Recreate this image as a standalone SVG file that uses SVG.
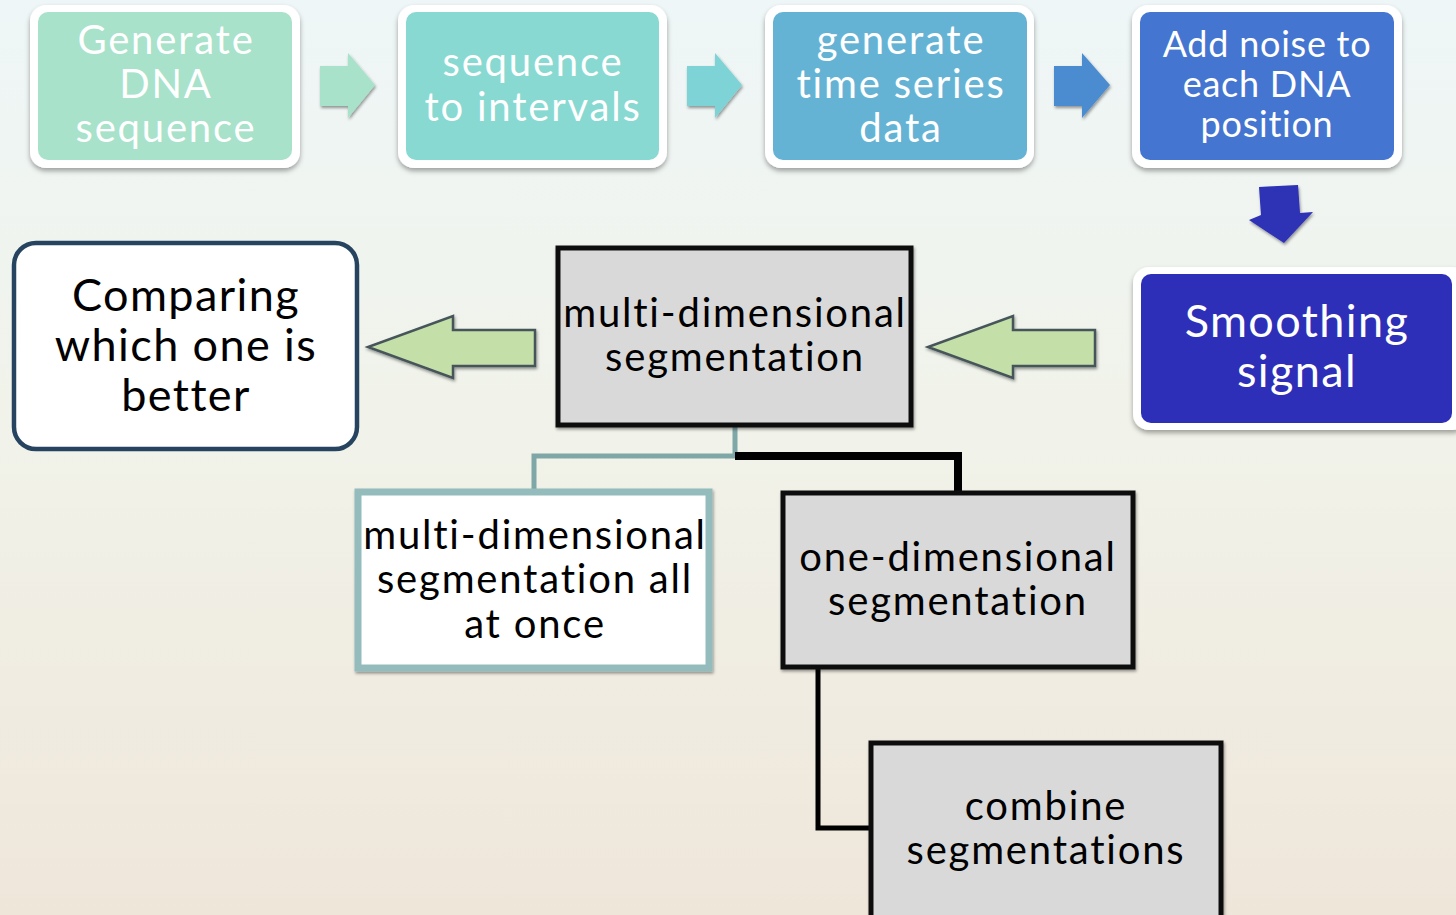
<svg xmlns="http://www.w3.org/2000/svg" width="1456" height="915" viewBox="0 0 1456 915">
<defs>
<linearGradient id="bg" x1="0" y1="0" x2="0" y2="1">
<stop offset="0" stop-color="#eef6f7"/>
<stop offset="0.45" stop-color="#f1f3ea"/>
<stop offset="1" stop-color="#efe6da"/>
</linearGradient>
<filter id="sh" x="-10%" y="-10%" width="120%" height="130%">
<feDropShadow dx="0" dy="3" stdDeviation="2.5" flood-color="#000" flood-opacity="0.35"/>
</filter>
<filter id="sh2" x="-10%" y="-10%" width="120%" height="130%">
<feDropShadow dx="1" dy="2" stdDeviation="1.5" flood-color="#000" flood-opacity="0.4"/>
</filter>
</defs>
<style>
text{font-family:"Lato","Open Sans","DejaVu Sans",sans-serif;text-anchor:middle}
.w{fill:#fff}
.k{fill:#000}
.m{font-size:40px;letter-spacing:1.8px}
.s{font-size:36px;letter-spacing:0.75px}
.l{font-size:45px;letter-spacing:1.4px}
.outer{fill:#fff;filter:url(#sh)}
.garrow{fill:#c5dfa8;stroke:#45555a;stroke-width:2.5;filter:url(#sh2)}
.grey{fill:#d9d9d9;stroke:#111;stroke-width:5;filter:url(#sh2)}
</style>
<rect width="1456" height="915" fill="url(#bg)"/>

<g id="connectors">
<polyline points="735,426 735,456 534,456 534,490" fill="none" stroke="#7fa7a7" stroke-width="5"/>
<polyline points="735,456 958,456 958,492" fill="none" stroke="#000" stroke-width="8"/>
<polyline points="818,668 818,828 870,828" fill="none" stroke="#000" stroke-width="5"/>
<polygon points="320,66 348,66 348,53 375,85 348,118 348,106 320,106" fill="#a8e2cb" filter="url(#sh2)"/>
<polygon points="687,66 715,66 715,53 742,85 715,118 715,106 687,106" fill="#7dd3d6" filter="url(#sh2)"/>
<polygon points="1054,66 1082,66 1082,53 1110,85 1082,118 1082,106 1054,106" fill="#4b8bd0" filter="url(#sh2)"/>
<polygon points="1259,187 1298,185 1300,213 1313,212 1284,243 1249,220 1261,215" fill="#2e30b5" filter="url(#sh2)"/>
<polygon class="garrow" points="535,330 453,330 453,316 368,347 453,378 453,366 535,366"/>
<polygon class="garrow" points="1095,330 1013,330 1013,316 928,347 1013,378 1013,366 1095,366"/>
</g>

<g id="n1">
<rect class="outer" x="30" y="5" width="270" height="163" rx="16"/>
<rect x="38" y="12" width="254" height="148" rx="10" fill="#a8e2cb"/>
<text class="w m" x="166" y="54">Generate</text>
<text class="w m" x="166" y="98">DNA</text>
<text class="w m" x="166" y="142">sequence</text>
</g>
<g id="n2">
<rect class="outer" x="398" y="5" width="269" height="163" rx="16"/>
<rect x="406" y="12" width="253" height="148" rx="10" fill="#88d9d2"/>
<text class="w m" x="533" y="76">sequence</text>
<text class="w m" x="533" y="121">to intervals</text>
</g>
<g id="n3">
<rect class="outer" x="765" y="5" width="269" height="163" rx="16"/>
<rect x="773" y="12" width="254" height="148" rx="10" fill="#65b3d4"/>
<text class="w m" x="901" y="54">generate</text>
<text class="w m" x="901" y="98">time series</text>
<text class="w m" x="901" y="142">data</text>
</g>
<g id="n4">
<rect class="outer" x="1132" y="5" width="270" height="163" rx="16"/>
<rect x="1140" y="12" width="254" height="148" rx="10" fill="#4475d0"/>
<text class="w s" x="1267" y="57">Add noise to</text>
<text class="w s" x="1267" y="97">each DNA</text>
<text class="w s" x="1267" y="137">position</text>
</g>
<g id="n5">
<rect class="outer" x="1133" y="267" width="335" height="163" rx="16"/>
<rect x="1141" y="274" width="311" height="149" rx="10" fill="#2e2fb8"/>
<text class="w l" x="1297" y="337">Smoothing</text>
<text class="w l" x="1297" y="387">signal</text>
</g>
<g id="n6">
<rect x="14" y="243" width="343" height="206" rx="22" fill="#fff" stroke="#26445f" stroke-width="4.5"/>
<text class="k l" x="186" y="311">Comparing</text>
<text class="k l" x="186" y="361">which one is</text>
<text class="k l" x="186" y="411">better</text>
</g>
<g id="n7">
<rect class="grey" x="558" y="248" width="353" height="177"/>
<text class="k m" x="735" y="327">multi-dimensional</text>
<text class="k m" x="735" y="371">segmentation</text>
</g>
<g id="n8">
<rect x="358" y="492" width="351" height="176" fill="#fff" stroke="#94bcbc" stroke-width="7" filter="url(#sh2)"/>
<text class="k m" x="535" y="549">multi-dimensional</text>
<text class="k m" x="535" y="593">segmentation all</text>
<text class="k m" x="535" y="638">at once</text>
</g>
<g id="n9">
<rect class="grey" x="783" y="493" width="350" height="174"/>
<text class="k m" x="958" y="571">one-dimensional</text>
<text class="k m" x="958" y="615">segmentation</text>
</g>
<g id="n10">
<rect class="grey" x="871" y="743" width="350" height="180"/>
<text class="k m" x="1046" y="820">combine</text>
<text class="k m" x="1046" y="864">segmentations</text>
</g>
</svg>
